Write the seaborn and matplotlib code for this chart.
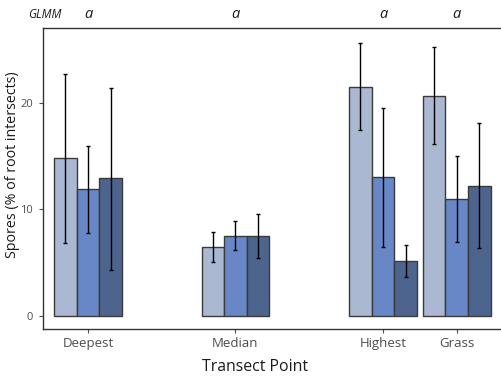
import numpy as np
import pandas as pd
import matplotlib
matplotlib.use("Agg")
import matplotlib.pyplot as plt
import matplotlib.transforms as mtransforms
import seaborn as sns

# ---- data ----
categories = ["Deepest", "Median", "Highest", "Grass"]
positions = [1, 3, 5, 6]
groups = ["A", "B", "C"]
means = {
    "A": [14.8, 6.5, 21.5, 20.6],
    "B": [11.9, 7.5, 13.0, 11.0],
    "C": [12.9, 7.5, 5.2, 12.2],
}
err_low = {
    "A": [6.8, 5.1, 17.4, 16.1],
    "B": [7.8, 6.2, 6.5, 6.9],
    "C": [4.3, 5.4, 3.7, 6.4],
}
err_high = {
    "A": [22.7, 7.9, 25.6, 25.2],
    "B": [15.9, 8.9, 19.5, 15.0],
    "C": [21.4, 9.6, 6.7, 18.1],
}
letters = ["a", "a", "a", "a"]
colors = ["#abb8d1", "#6887c6", "#4d648f"]

rows = []
for g in groups:
    for c, p, m, lo, hi in zip(categories, positions, means[g], err_low[g], err_high[g]):
        rows.append(dict(cat=c, pos=p, grp=g, val=m, lo=lo, hi=hi))
df = pd.DataFrame(rows)

sns.set_style("white")
plt.rcParams["font.family"] = ["Open Sans", "DejaVu Sans"]

fig = plt.figure(figsize=(5.01, 3.79), dpi=100)
ax = fig.add_axes([43/501, 1 - 329/379, 1 - 43/501, (329 - 28)/379])

sns.barplot(data=df, x="pos", y="val", hue="grp", native_scale=True,
            palette=colors, saturation=1, width=0.92, errorbar=None, ax=ax,
            edgecolor="#3a3a3a", linewidth=1.0, legend=False)

# error bars at the bar centres (patches are ordered hue by hue, like df)
bars = [p for p in ax.patches if p.get_width() > 0]
for patch, (_, r) in zip(bars, df.iterrows()):
    xc = patch.get_x() + patch.get_width() / 2
    ax.errorbar(xc, r["val"], yerr=[[r["val"] - r["lo"]], [r["hi"] - r["val"]]],
                fmt="none", ecolor="black", elinewidth=1.0, capsize=1.7,
                capthick=1.0, zorder=5)

ax.set_xlim(0.39, 6.60)
ax.set_ylim(-1.22, 27.0)
ax.set_xticks(positions)
ax.set_xticklabels(categories)
ax.set_yticks([0, 10, 20])
ax.tick_params(axis="both", colors="#4d4d4d", length=3, width=0.8,
               left=True, bottom=True, labelcolor="#4d4d4d", pad=3)
ax.tick_params(axis="x", labelsize=9.5)
ax.tick_params(axis="y", labelsize=8, pad=4)
ax.set_xlabel("")
ax.set_ylabel("")
for s in ["left", "bottom", "top"]:
    ax.spines[s].set_color("#333333")
    ax.spines[s].set_linewidth(1.0)
ax.spines["right"].set_visible(False)

fig.text(255/501, 1 - 367/379, "Transect Point", fontsize=11.4, color="#1a1a1a",
         ha="center", va="center")
fig.text(13/501, 1 - 165/379, "Spores (% of root intersects)", fontsize=10.3,
         color="#1a1a1a", ha="center", va="center", rotation=90)

fig.text(45/501, 1 - 15/379, "GLMM", fontsize=8.5, style="italic", ha="center",
         va="center", color="#1a1a1a")
blend = mtransforms.blended_transform_factory(ax.transData, fig.transFigure)
for p, l in zip(positions, letters):
    ax.text(p, 1 - 15/379, l, transform=blend,
            fontsize=10.5, style="italic", ha="center", va="center", color="#1a1a1a")

fig.savefig("out.png", dpi=100)
